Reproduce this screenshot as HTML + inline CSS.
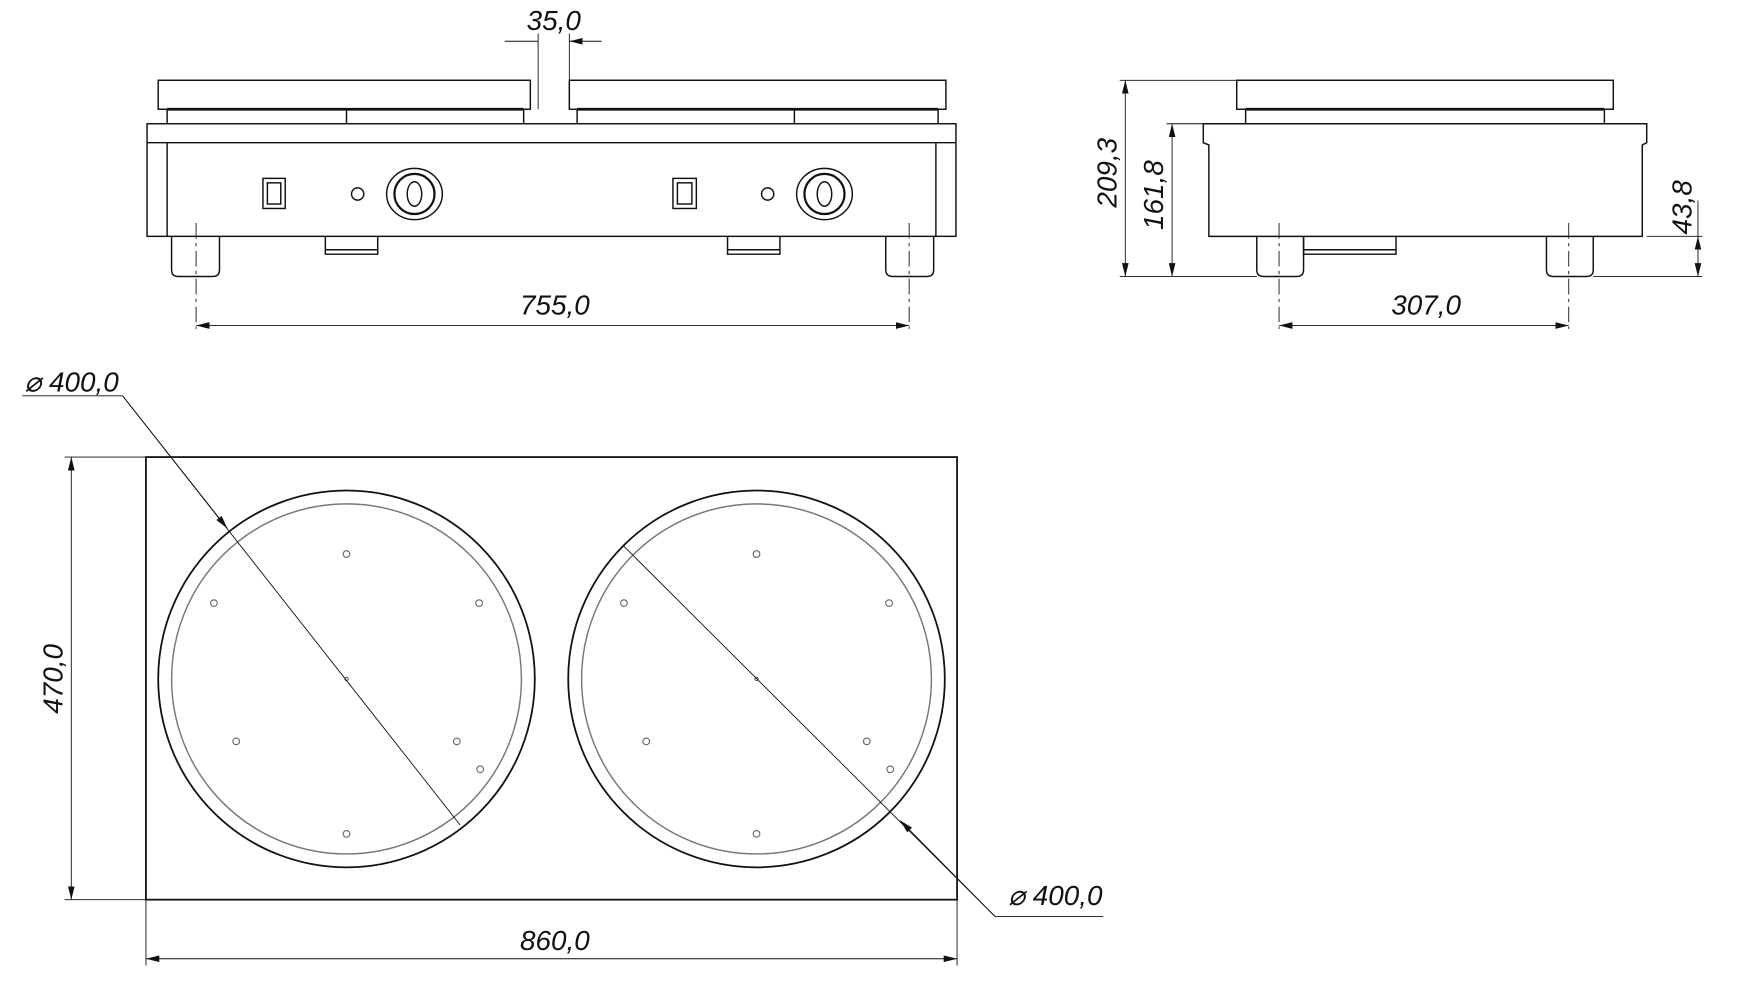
<!DOCTYPE html>
<html><head><meta charset="utf-8"><style>
html,body{margin:0;padding:0;background:#fff}
svg{display:block}
text{font-family:"Liberation Sans Narrow","Liberation Sans",sans-serif;font-style:italic;font-size:25px;fill:#111}
</style></head><body>
<svg width="1747" height="1000" viewBox="0 0 1568 897" preserveAspectRatio="none" xmlns="http://www.w3.org/2000/svg">
<defs>
<marker id="a" viewBox="0 0 12 6" refX="12" refY="3" markerWidth="12" markerHeight="6" orient="auto-start-reverse" markerUnits="userSpaceOnUse">
<path d="M0,0 L12,3 L0,6 z" fill="#111"/></marker>
</defs>
<g fill="none" stroke="#111" stroke-width="1.3">
<rect x="142" y="72" width="334" height="26"/>
<rect x="511" y="72" width="338" height="26"/>
<path d="M150,98 V111 M470,98 V111 M311,98 V111 M518,98 V111 M842,98 V111 M713,98 V111"/>
<path d="M150,98 H470 M518,98 H842" stroke-width="2.5"/>
<rect x="132" y="111" width="726" height="101"/>
<path d="M132,128 H858 M150,128 V212 M840,128 V212"/>
<rect x="236" y="160" width="20" height="27"/><rect x="240" y="164" width="12" height="19"/>
<rect x="604" y="160" width="21" height="27"/><rect x="608" y="164" width="13" height="19"/>
<circle cx="321" cy="174" r="5.5"/><circle cx="689" cy="174" r="5.5"/>
<ellipse cx="372" cy="174" rx="25" ry="23"/><circle cx="372" cy="174" r="18" stroke-width="2"/><ellipse cx="372" cy="174" rx="6.5" ry="11"/>
<ellipse cx="740" cy="174" rx="25" ry="23"/><circle cx="740" cy="174" r="18" stroke-width="2"/><ellipse cx="740" cy="174" rx="6.5" ry="11"/>
<path d="M154,212 V242 Q154,248 160,248 H191 Q197,248 197,242 V212"/>
<path d="M795,212 V242 Q795,248 801,248 H832 Q838,248 838,242 V212"/>
<path d="M292,212 V228 H339 V212 M292,224 H339"/>
<path d="M653,212 V228 H700 V212 M653,224 H700"/>
<path d="M176,200 V295 M816,200 V295" stroke-width="0.8" stroke-dasharray="14,4,3,4"/>
<path d="M176,292 H816" stroke-width="0.8" marker-start="url(#a)" marker-end="url(#a)"/>
<path d="M483,30 V98 M511,30 V98" stroke-width="0.8"/>
<path d="M453,37 H483 M540,37 H511" stroke-width="0.8" marker-end="url(#a)"/>
<rect x="1110" y="72" width="338" height="26"/>
<path d="M1118,98 V111 M1440,98 V111"/>
<path d="M1118,98 H1440" stroke-width="2.5"/>
<path d="M1080,111 H1478 V128 L1474,130 V212 H1085 V130 L1080,128 Z"/>
<path d="M1128,212 V242 Q1128,248 1134,248 H1164 Q1170,248 1170,242 V212"/>
<path d="M1388,212 V242 Q1388,248 1394,248 H1424 Q1430,248 1430,242 V212"/>
<path d="M1170,212 V228 H1253 V212 M1170,224 H1253"/>
<path d="M1148,200 V295 M1408,200 V295" stroke-width="0.8" stroke-dasharray="14,4,3,4"/>
<path d="M1148,292 H1408" stroke-width="0.8" marker-start="url(#a)" marker-end="url(#a)"/>
<path d="M1005,72 H1110 M1005,248 H1128 M1047,111 H1080 M1430,248 H1528 M1478,212 H1528 M1524,180 V212" stroke-width="0.8"/>
<path d="M1010,72 V248" stroke-width="0.8" marker-start="url(#a)" marker-end="url(#a)"/>
<path d="M1052,111 V248" stroke-width="0.8" marker-start="url(#a)" marker-end="url(#a)"/>
<path d="M1524,212 V248" stroke-width="0.8" marker-start="url(#a)" marker-end="url(#a)"/>
<rect x="131" y="410" width="728" height="397" stroke-width="1.6"/>
<circle cx="311" cy="609" r="169" stroke-width="1.6"/>
<circle cx="311" cy="609" r="157" stroke="#777"/>
<circle cx="679" cy="609" r="169" stroke-width="1.6"/>
<circle cx="679" cy="609" r="157" stroke="#777"/>
<g stroke="#666" stroke-width="1">
<circle cx="311" cy="497" r="3"/><circle cx="192" cy="541" r="3"/><circle cx="430" cy="541" r="3"/><circle cx="212" cy="665" r="3"/><circle cx="410" cy="665" r="3"/><circle cx="431" cy="690" r="3"/><circle cx="311" cy="748" r="3"/><circle cx="311" cy="609" r="1.5"/>
<circle cx="679" cy="497" r="3"/><circle cx="560" cy="541" r="3"/><circle cx="798" cy="541" r="3"/><circle cx="580" cy="665" r="3"/><circle cx="778" cy="665" r="3"/><circle cx="799" cy="690" r="3"/><circle cx="679" cy="748" r="3"/><circle cx="679" cy="609" r="1.5"/>
</g>
<path d="M20,355 H110 L413,740" stroke-width="0.8"/>
<path d="M110,355 L204,474" stroke-width="0.8" marker-end="url(#a)"/>
<path d="M560,490 L893,822 H990" stroke-width="0.8"/>
<path d="M893,822 L808,736" stroke-width="0.8" marker-end="url(#a)"/>
<path d="M58,410 H131 M58,807 H131 M131,807 V866 M859,807 V866" stroke-width="0.8"/>
<path d="M64,410 V807" stroke-width="0.8" marker-start="url(#a)" marker-end="url(#a)"/>
<path d="M131,860 H859" stroke-width="0.8" marker-start="url(#a)" marker-end="url(#a)"/>
</g>
<text x="497" y="27" text-anchor="middle">35,0</text>
<text x="498" y="282" text-anchor="middle">755,0</text>
<text x="1280" y="282" text-anchor="middle">307,0</text>
<text transform="translate(1002,155) rotate(-90)" text-anchor="middle">209,3</text>
<text transform="translate(1044,175) rotate(-90)" text-anchor="middle">161,8</text>
<text transform="translate(1518,186) rotate(-90)" text-anchor="middle">43,8</text>
<text transform="translate(56,609) rotate(-90)" text-anchor="middle">470,0</text>
<text x="498" y="852" text-anchor="middle">860,0</text>
<text x="22" y="351">⌀ 400,0</text>
<text x="905" y="812">⌀ 400,0</text>
</svg>
</body></html>
